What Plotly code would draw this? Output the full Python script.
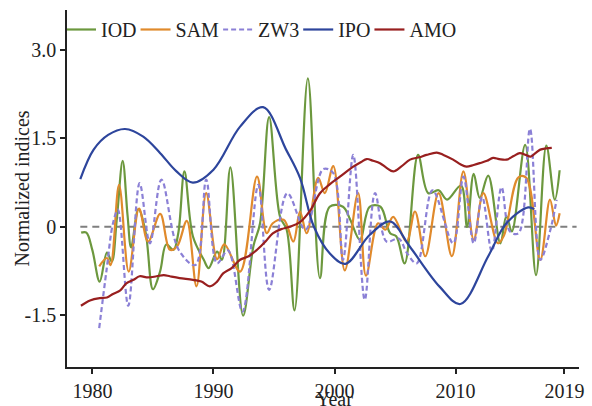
import plotly.graph_objects as go

# ---------------- data ----------------
iod_year = [1979.07, 1979.5, 1980.0, 1980.6, 1981.2, 1981.6, 1982.0, 1982.5, 1982.9, 1983.2,
            1983.8, 1984.4, 1985.0, 1985.6, 1986.1, 1986.7, 1987.1, 1987.6, 1988.3, 1989.2,
            1989.6, 1990.3, 1990.7, 1991.4, 1992.45, 1993.3, 1993.85, 1994.6, 1995.5, 1996.05,
            1996.7, 1997.8, 1998.8, 1999.6, 2000.7, 2001.3, 2002.1, 2002.9, 2003.8, 2004.6,
            2005.1, 2005.8, 2006.9, 2007.75, 2008.6, 2009.3, 2010.45, 2010.95, 2011.5, 2012.0,
            2012.7, 2013.7, 2014.2, 2014.65, 2015.75, 2016.65, 2017.5, 2018.2, 2018.6]
iod_val = [-0.10, -0.10, -0.40, -0.93, -0.44, -0.59, 0.10, 1.12, 0.20, -0.35,
           0.30, -0.10, -1.06, -0.75, -0.30, -0.39, -0.10, 0.94, -0.16, -0.56,
           -0.70, -0.42, -0.56, 1.01, -1.51, -0.33, 0.06, 1.86, 0.17, -0.05,
           -1.42, 2.52, -0.87, 0.34, 0.34, 0.12, -0.22, 0.34, 0.34, -0.11,
           -0.16, -0.62, 1.22, 0.57, 0.62, 0.46, 0.70, 0.00, 0.90, 0.49,
           0.87, -0.28, 0.18, -0.08, 1.39, -0.82, 1.38, 0.46, 0.96]

sam_year = [1980.56, 1981.2, 1981.5, 1982.2, 1983.0, 1983.85, 1984.6, 1985.6, 1986.4, 1987.0,
            1987.8, 1988.6, 1989.4, 1990.3, 1990.9, 1992.2, 1993.6, 1994.4, 1994.9, 1995.8,
            1996.6, 1997.15, 1997.7, 1998.65, 1999.2, 1999.9, 2000.85, 2001.95, 2002.6, 2003.6,
            2004.2, 2004.85, 2005.95, 2006.65, 2007.5, 2008.6, 2009.7, 2010.65, 2011.5, 2012.3,
            2013.5, 2014.0, 2015.2, 2015.85, 2017.0, 2017.8, 2018.3, 2018.6]
sam_val = [-0.67, -0.53, -0.65, 0.71, -0.76, 0.31, -0.25, 0.22, -0.39, -0.33,
           0.10, -1.01, 0.57, -0.55, -0.30, -0.76, 0.85, -0.11, 0.06, 0.12,
           -0.25, 0.26, -0.11, 0.83, 0.57, 1.03, -0.74, 0.57, -0.83, 0.06,
           -0.05, 0.17, -0.25, 0.26, -0.50, 0.57, -0.50, 0.94, -0.22, 0.57,
           -0.28, -0.15, 0.84, 0.83, -0.56, 0.46, 0.02, 0.23]

zw3_year = [1980.56, 1981.17, 1981.7, 1982.1, 1982.96, 1983.9, 1984.75, 1985.7, 1987.1, 1988.5,
            1989.4, 1990.3, 1991.2, 1992.4, 1993.7, 1994.6, 1996.1, 1997.6, 1999.07, 1999.9,
            2000.7, 2001.55, 2002.5, 2003.35, 2004.3, 2005.3, 2006.0, 2006.8, 2008.1, 2009.8,
            2010.65, 2011.5, 2012.2, 2013.0, 2013.8, 2014.5, 2015.2, 2016.15, 2017.0, 2017.8,
            2018.35]
zw3_val = [-1.72, -0.73, 0.06, 0.29, -1.34, 0.74, -0.28, 0.80, -0.38, -0.65,
           0.80, -0.62, -0.40, -1.44, 0.71, -1.07, 0.57, -0.05, 0.98, 0.91,
           -0.56, 1.22, -1.24, 0.57, -0.25, -0.20, -0.45, -0.62, 0.62, -0.28,
           0.85, -0.28, 0.51, -0.42, 0.67, -0.08, -0.11, 1.66, -0.56, -0.08,
           0.46]

ipo_year = [1979.0, 1980.1, 1981.3, 1982.7, 1984.2, 1985.6, 1986.9, 1988.3, 1990.0, 1992.2,
            1994.1, 1996.0, 1997.15, 1998.3, 1999.6, 2000.9, 2002.9, 2004.6, 2006.2, 2008.7,
            2010.4, 2012.7, 2014.2, 2016.0, 2016.5]
ipo_val = [0.81, 1.31, 1.56, 1.66, 1.53, 1.25, 0.95, 0.75, 0.97, 1.70,
           2.03, 1.31, 0.83, 0.00, -0.45, -0.63, -0.14, 0.09, -0.33, -1.02,
           -1.31, -0.50, 0.06, 0.33, 0.30]

amo_year = [1979.05, 1979.8, 1980.6, 1981.2, 1981.7, 1982.3, 1982.8, 1983.4, 1983.9, 1984.6,
            1985.3, 1985.9, 1986.4, 1987.2, 1988.3, 1989.0, 1989.7, 1990.3, 1990.8, 1991.5,
            1992.2, 1992.9, 1993.6, 1994.3, 1994.9, 1995.6, 1996.3, 1997.15, 1998.0, 1998.8,
            1999.6, 2000.45, 2001.55, 2002.2, 2002.66, 2003.2, 2003.76, 2004.3, 2004.86, 2005.5,
            2006.24, 2007.0, 2007.6, 2008.45, 2009.0, 2009.8, 2010.4, 2010.9, 2011.5, 2012.0,
            2012.6, 2013.1, 2013.6, 2014.2, 2014.8, 2015.3, 2015.8, 2016.2, 2016.6, 2017.0,
            2017.5, 2017.95]
amo_val = [-1.34, -1.25, -1.21, -1.20, -1.14, -1.08, -0.96, -0.90, -0.84, -0.86,
           -0.84, -0.82, -0.84, -0.87, -0.90, -0.93, -1.01, -0.93, -0.79, -0.70,
           -0.56, -0.50, -0.39, -0.25, -0.11, -0.04, 0.00, 0.08, 0.28, 0.57,
           0.72, 0.85, 1.02, 1.10, 1.15, 1.12, 1.08, 1.00, 0.94, 1.02,
           1.14, 1.18, 1.22, 1.26, 1.22, 1.14, 1.06, 1.02, 1.05, 1.08,
           1.12, 1.17, 1.15, 1.14, 1.20, 1.25, 1.22, 1.19, 1.25, 1.31,
           1.33, 1.34]

zero_x = [1979.0, 2020.0]
zero_y = [0.0, 0.0]

x_ticks = [1980, 1990, 2000, 2010, 2019]
y_ticks = [-1.5, 0, 1.5, 3.0]
y_tick_text = ["-1.5", "0", "1.5", "3.0"]

FONT = "Liberation Serif"
INK = "#222222"

fig = go.Figure()

fig.add_trace(go.Scatter(x=zero_x, y=zero_y, mode="lines", showlegend=False,
                         line=dict(color="#7f7f7f", width=2, dash="7px,5px"),
                         hoverinfo="skip"))

series = [
    ("IOD", iod_year, iod_val, "#6c983e", "solid"),
    ("SAM", sam_year, sam_val, "#e08a2c", "solid"),
    ("ZW3", zw3_year, zw3_val, "#8b80d6", "5px,3px"),
    ("IPO", ipo_year, ipo_val, "#2d459c", "solid"),
    ("AMO", amo_year, amo_val, "#981f1f", "solid"),
]
for name, xs, ys, col, dash in series:
    fig.add_trace(go.Scatter(
        x=xs, y=ys, name=name, mode="lines",
        line=dict(color=col, width=2.2, dash=dash, shape="spline", smoothing=1.0),
    ))

fig.update_layout(
    width=592, height=406,
    margin=dict(l=67, r=13, t=10, b=39),
    paper_bgcolor="white", plot_bgcolor="white",
    font=dict(family=FONT, size=20, color=INK),
    legend=dict(orientation="h", x=0.0, y=1.0, xanchor="left", yanchor="top",
                bgcolor="rgba(0,0,0,0)", font=dict(family=FONT, size=20), itemwidth=30,
                tracegroupgap=0, indentation=-6),
    xaxis=dict(range=[1977.9, 2020.2], tickvals=x_ticks, showgrid=False, zeroline=False,
               showline=True, linecolor=INK, linewidth=1.5, automargin=False,
               ticks="outside", ticklen=5, tickwidth=1.5, tickcolor=INK,
               tickfont=dict(family=FONT, size=20)),
    yaxis=dict(range=[-2.38, 3.68], tickvals=y_ticks, ticktext=y_tick_text,
               showgrid=False, zeroline=False, automargin=False,
               showline=True, linecolor=INK, linewidth=1.5,
               ticks="outside", ticklen=5, tickwidth=1.5, tickcolor=INK,
               tickfont=dict(family=FONT, size=20)),
    annotations=[
        dict(text="Year", xref="paper", yref="paper", x=0.523, y=0,
             xanchor="center", yanchor="top", yshift=-19, showarrow=False,
             font=dict(family=FONT, size=20, color=INK)),
        dict(text="Normalized indices", xref="paper", yref="paper", x=-0.088, y=0.5,
             xanchor="center", yanchor="middle", textangle=-90, showarrow=False,
             font=dict(family=FONT, size=20, color=INK)),
    ],
)

fig.write_html("out.html")
